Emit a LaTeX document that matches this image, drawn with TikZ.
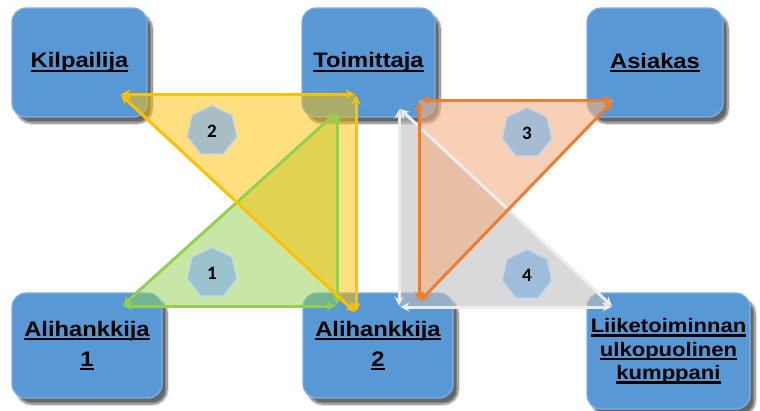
\documentclass[tikz,border=0pt]{standalone}
\usepackage{fontspec}
\setmainfont{Liberation Sans}
\newfontfamily\partyfont[FakeStretch=1.13]{Liberation Sans}
\newfontfamily\badgefont{Carlito}
\usepackage{tikz}
\usetikzlibrary{arrows.meta,shapes.geometric,shadows.blur}

\definecolor{boxBlue}{RGB}{88,152,212}
\definecolor{boxEdge}{RGB}{122,178,230}
\definecolor{linkYellow}{RGB}{255,192,0}
\definecolor{linkGreen}{RGB}{146,208,80}
\definecolor{linkOrange}{RGB}{237,125,49}
\definecolor{linkGray}{RGB}{236,236,236}
\definecolor{fillOrange}{RGB}{244,177,131}
\definecolor{fillGray}{RGB}{191,191,191}
\definecolor{badgeBlue}{RGB}{140,180,220}
\definecolor{badgeEdge}{RGB}{190,215,238}

% underlined word with a thick rule
\newcommand{\ulword}[1]{\setbox0\hbox{#1}\rlap{\rule[-4pt]{\wd0}{2.2pt}}\box0}

\begin{document}
\begin{tikzpicture}[x=1pt, y=-1pt,
  partyBox/.style={rectangle, rounded corners=14pt, fill=boxBlue,
                   draw=boxEdge, line width=1.2pt, align=center,
                   inner sep=0pt,
                   blur shadow={shadow xshift=5pt, shadow yshift=-6pt,
                                shadow opacity=60, shadow blur steps=12},
                   font=\partyfont\bfseries\fontsize{21}{30}\selectfont},
  linkArrow/.style={<->, line width=3pt, shorten <=1.5pt,
                    shorten >=1.5pt},
  badge/.style={regular polygon, regular polygon sides=7,
                minimum size=51pt, inner sep=0pt, fill=badgeBlue,
                fill opacity=0.75, text opacity=1, draw=badgeEdge,
                line width=1.2pt,
                font=\badgefont\bfseries\fontsize{19}{19}\selectfont},
  >={Stealth[length=9pt, width=9pt]}
]
  \useasboundingbox (0,0) rectangle (760,410);

  % === Parties ===
  \node[partyBox, minimum width=135pt, minimum height=109pt] (kil)
    at (79.5,62.5) {\ulword{Kilpailija}};
  \node[partyBox, minimum width=133pt, minimum height=109pt] (toim)
    at (368.5,62.5) {\ulword{Toimittaja}};
  \node[partyBox, minimum width=136pt, minimum height=109pt] (asi)
    at (655,62.5) {\ulword{Asiakas}};
  \node[partyBox, minimum width=150pt, minimum height=105pt] (ali1)
    at (87,345.5) {\ulword{Alihankkija}\\\ulword{1}};
  \node[partyBox, minimum width=150pt, minimum height=105pt] (ali2)
    at (378,345.5) {\ulword{Alihankkija}\\\ulword{2}};
  \node[partyBox, minimum width=163pt, minimum height=116pt,
        font=\partyfont\bfseries\fontsize{19.5}{23.5}\selectfont] (liike)
    at (668.5,351) {\ulword{Liiketoiminnan}\\\ulword{ulkopuolinen}\\
                    \ulword{kumppani}};

  % === Triangle corners ===
  \coordinate (ya) at (120,94);   % yellow: kil, toim, ali2
  \coordinate (yb) at (356,94);
  \coordinate (yc) at (356,313);
  \coordinate (ga) at (122,306);  % green: ali1, ali2, toim
  \coordinate (gb) at (337,306);
  \coordinate (gc) at (337,112);
  \coordinate (oa) at (419,100);  % orange: toim, asi, ali2
  \coordinate (ob) at (614,100);
  \coordinate (oc) at (419,302);
  \coordinate (xa) at (399,108);  % gray: toim, ali2, liike
  \coordinate (xb) at (399,307);
  \coordinate (xc) at (613,307);

  % === Fills ===
  \fill[fillGray, fill opacity=0.6] (xa) -- (xb) -- (xc) -- cycle;
  \fill[fillOrange, fill opacity=0.6] (oa) -- (ob) -- (oc) -- cycle;
  \fill[linkGreen, fill opacity=0.5] (ga) -- (gb) -- (gc) -- cycle;
  \fill[linkYellow, fill opacity=0.5] (ya) -- (yb) -- (yc) -- cycle;

  % === Two-way links ===
  \draw[linkArrow, linkGray] (xa) -- (xb);
  \draw[linkArrow, linkGray] (xb) -- (xc);
  \draw[linkArrow, linkGray] (xc) -- (xa);
  \draw[linkArrow, linkOrange] (oa) -- (ob);
  \draw[linkArrow, linkOrange] (ob) -- (oc);
  \draw[linkArrow, linkOrange] (oc) -- (oa);
  \draw[linkArrow, linkGreen] (ga) -- (gb);
  \draw[linkArrow, linkGreen] (gb) -- (gc);
  \draw[linkArrow, linkGreen] (gc) -- (ga);
  \draw[linkArrow, linkYellow] (ya) -- (yb);
  \draw[linkArrow, linkYellow] (yb) -- (yc);
  \draw[linkArrow, linkYellow] (yc) -- (ya);

  % === Numbered badges ===
  \node[badge] (b1) at (212,273) {1};
  \node[badge] (b2) at (212,131) {2};
  \node[badge] (b3) at (527,133) {3};
  \node[badge] (b4) at (527,275) {4};
\end{tikzpicture}
\end{document}
